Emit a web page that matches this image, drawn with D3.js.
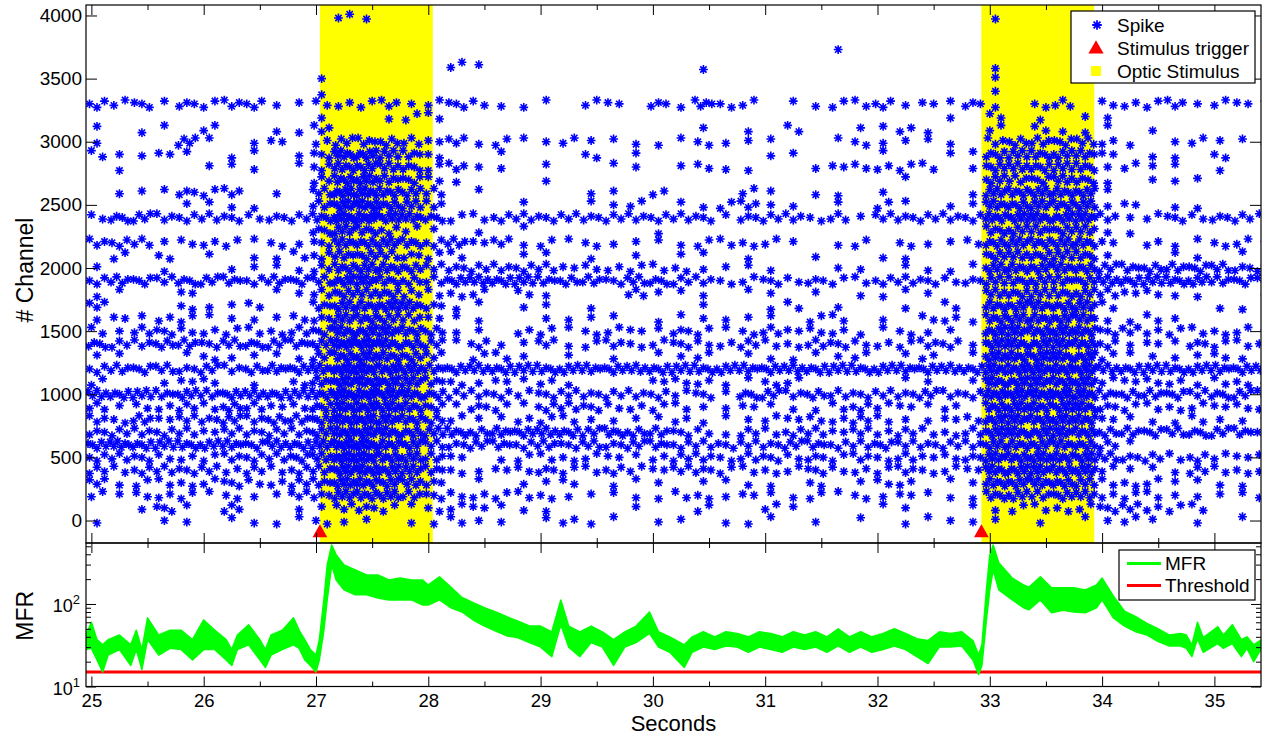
<!DOCTYPE html>
<html>
<head>
<meta charset="utf-8">
<script src="https://cdn.jsdelivr.net/npm/d3@7"></script>
<style>
  body { margin: 0; background: #fff; }
  svg text { font-family: "Liberation Sans", Arial, Helvetica, sans-serif; }
</style>
</head>
<body>
<div id="chart"></div>
<script>
// ---- data ----
const stimStart = [27.035, 32.925]
const stimEnd = [28.04, 33.93]
const triggerChannel = -90

// spike raster as counts per cell: one row per 100 channels (4000 down to 0),
// one column per 0.2 s starting at 24.95 s
const binStart = 24.95
const binWidth = 0.2
const rowChannels = [4000, 3900, 3800, 3700, 3600, 3500, 3400, 3300, 3200, 3100, 3000,
  2900, 2800, 2700, 2600, 2500, 2400, 2300, 2200, 2100, 2000,
  1900, 1800, 1700, 1600, 1500, 1400, 1300, 1200, 1100, 1000,
  900, 800, 700, 600, 500, 400, 300, 200, 100, 0]
const spikeCounts = [
  "0000000000 0210000000 0000000000 0000000000 1000000000 000",
  "0000000000 0000000000 0000000000 0000000000 0000000000 000",
  "0000000000 0000000000 0000000000 0000000000 0000000000 000",
  "0000000000 0000000000 0000000000 0001000000 0000000000 000",
  "0000000000 0000002100 0000000100 0000000000 1000000000 000",
  "0000000000 1000000000 0000000000 0000000000 1000000000 000",
  "0000000000 1000000000 0000000000 0000000000 1000000000 000",
  "3231323311 2223123211 1022031422 0112231213 1023022231 221",
  "0000000000 1001220000 0000000000 0000000010 2010110000 000",
  "1011020011 3000000000 0000000101 0200112100 2021110100 000",
  "1000410120 2444323121 1211111211 1001211110 3444421012 111",
  "2112101101 3775420010 0020100000 1100010011 5555520110 200",
  "0100011101 3665423110 1001101211 0012222201 5555512110 100",
  "0000000000 3775421000 1000000000 0000001000 5445410111 000",
  "0111323010 4886530100 0011020002 1011010001 6666610000 000",
  "0000111100 4886530001 0011201123 1101021011 6666612011 000",
  "2443333233 5997642233 3333333313 3323133333 7777731232 332",
  "0000000000 4653210101 0000010000 0000000000 5555511000 000",
  "3331222121 3666534231 2121111222 2101202112 6666620211 221",
  "0202010112 3554322001 1010101101 0010011000 5555510011 010",
  "1001001111 3666533333 3222222111 1001101111 6666644444 433",
  "3443444344 4775435555 4443443322 3232233323 5555555555 443",
  "1100200011 3555322202 1000311101 1010111100 5555532211 001",
  "3000211200 4667631101 1010000100 1201001020 6666620000 110",
  "1212211112 3665421100 1111011111 1022010221 6666611210 000",
  "2133222223 4777641102 2122213212 3222112110 7777733222 221",
  "4334434444 5997641311 3123223223 2233222331 7777731213 222",
  "1100121111 4776530221 0101011201 1111201201 7777721111 210",
  "3444343455 6998755555 5555555555 5555555555 8888855555 555",
  "2001220102 5887642121 2100022211 2200001101 7777722221 221",
  "5554545555 6998753332 3333332314 4343333433 8888844443 443",
  "3122324322 5887641321 3332222112 1112322120 7777732222 222",
  "3242334344 5887642112 2211112111 2222321122 7777721112 111",
  "3333323333 5887655455 5545443213 2332323223 7777744444 443",
  "5655555455 6997643443 4343443333 3443343333 6666631000 000",
  "3332223334 5997642012 2222123323 3232323223 7777743323 222",
  "3233332323 4887642122 3223223322 2232223222 7777721113 222",
  "3122223223 4776530101 1201110111 1020122011 6666522211 110",
  "2122212113 3666432222 2111112212 1121212111 5545522211 112",
  "0013103001 1332122211 1000100200 2100011001 1222233222 000",
  "1001101111 2110112110 1211011011 1010101111 1010112101 010"
]

// mean firing rate: band of the trace (low / high edge)
const mfrTime = [24.95, 25.0, 25.05, 25.1, 25.15, 25.25, 25.35, 25.4, 25.45, 25.5, 25.6, 25.7, 25.8, 25.9,
  26.0, 26.1, 26.2, 26.25, 26.3, 26.4, 26.5, 26.55, 26.6, 26.7, 26.8, 26.85, 26.9, 26.95, 27.0, 27.03,
  27.07, 27.1, 27.14, 27.18, 27.25, 27.35, 27.45, 27.55, 27.65, 27.75, 27.85, 27.95, 28.0, 28.1, 28.2,
  28.3, 28.4, 28.5, 28.6, 28.7, 28.8, 28.9, 29.0, 29.1, 29.18, 29.25, 29.35, 29.45, 29.55, 29.65, 29.75,
  29.85, 29.97, 30.05, 30.15, 30.28, 30.35, 30.45, 30.55, 30.65, 30.75, 30.85, 30.95, 31.05, 31.15, 31.25,
  31.35, 31.45, 31.55, 31.65, 31.75, 31.85, 31.95, 32.05, 32.15, 32.25, 32.35, 32.45, 32.55, 32.65, 32.75,
  32.85, 32.9, 32.93, 32.97, 33.0, 33.03, 33.08, 33.2, 33.3, 33.35, 33.45, 33.55, 33.65, 33.75, 33.85,
  33.95, 34.0, 34.1, 34.2, 34.3, 34.4, 34.5, 34.6, 34.7, 34.75, 34.8, 34.85, 34.9, 35.03, 35.08, 35.16,
  35.24, 35.29, 35.35, 35.42]
const mfrHigh = [42, 60, 37, 32, 37, 42, 32, 48, 28, 68, 42, 48, 48, 37,
  64, 48, 37, 28, 42, 56, 37, 28, 42, 48, 68, 48, 37, 28, 24, 37,
  112, 297, 519, 393, 297, 258, 225, 225, 195, 206, 195, 195, 170, 213, 160,
  120, 104, 90, 80, 70, 62, 54, 54, 46, 112, 54, 46, 54, 46, 37, 46,
  54, 80, 46, 40, 32, 40, 46, 40, 46, 44, 40, 46, 44, 40, 46,
  42, 46, 40, 50, 40, 46, 40, 44, 50, 44, 38, 36, 46, 44, 46,
  36, 24, 32, 148, 393, 519, 315, 206, 170, 160, 213, 157, 157, 157, 148,
  170, 206, 125, 82, 70, 58, 50, 42, 44, 42, 32, 60, 39, 53, 42, 56,
  37, 40, 32, 37]
const mfrLow = [28, 29, 21, 15, 24, 28, 18, 28, 16, 37, 24, 29, 28, 21,
  28, 28, 21, 18, 28, 32, 21, 17, 24, 28, 32, 29, 21, 18, 15, 21,
  48, 112, 297, 195, 148, 129, 129, 118, 112, 112, 112, 97, 97, 112, 90,
  80, 64, 54, 47, 41, 39, 34, 30, 23, 56, 30, 23, 34, 30, 18, 30,
  34, 44, 30, 26, 17, 26, 30, 28, 31, 30, 26, 30, 28, 26, 30,
  28, 30, 26, 31, 26, 30, 26, 28, 31, 28, 23, 19, 30, 30, 31,
  21, 14, 18, 64, 148, 258, 148, 112, 90, 85, 112, 78, 84, 80, 78,
  90, 112, 68, 54, 46, 42, 35, 31, 31, 29, 23, 38, 26, 33, 29, 33,
  23, 29, 20, 29]
const threshold = 15

const xTicks = [25, 26, 27, 28, 29, 30, 31, 32, 33, 34, 35]
const xMinorTicks = [25.5, 26.5, 27.5, 28.5, 29.5, 30.5, 31.5, 32.5, 33.5, 34.5]
const channelTicks = [0, 500, 1000, 1500, 2000, 2500, 3000, 3500, 4000]
const mfrTicks = [10, 100]
const mfrTickExp = ["1", "2"]
const mfrMinorTicks = [20, 30, 40, 50, 60, 70, 80, 90, 200, 300, 400, 500]

// ---- layout ----
const W = 1269, H = 737
const left = 86, right = 1261
const topTop = 5, topBottom = 543, botBottom = 686.5

const svg = d3.select("#chart").append("svg")
  .attr("width", W)
  .attr("height", H)

const x = d3.scaleLinear().domain([24.952, 35.415]).range([left, right])
const yTop = d3.scaleLinear().domain([-178, 4083]).range([topBottom, topTop])
const yBot = d3.scaleLog().domain([10, 548]).range([botBottom, topBottom])

const defs = svg.append("defs")
defs.append("clipPath").attr("id", "clipTop")
  .append("rect").attr("x", left).attr("y", topTop).attr("width", right - left).attr("height", topBottom - topTop)
defs.append("clipPath").attr("id", "clipBot")
  .append("rect").attr("x", left).attr("y", topBottom).attr("width", right - left).attr("height", botBottom - topBottom)

// optic stimulus
svg.append("g").attr("clip-path", "url(#clipTop)")
  .selectAll("rect").data(stimStart).join("rect")
    .attr("x", d => x(d))
    .attr("y", topTop)
    .attr("width", (d, i) => x(stimEnd[i]) - x(d))
    .attr("height", topBottom - topTop)
    .attr("fill", "#ffff00")

// spikes: n marks spread over their cell
const spread = [0, -28, 22, -12, 30, -20, 10]
const spikes = []
spikeCounts.forEach((row, i) => {
  const cells = row.replace(/ /g, "")
  for (let k = 0; k < cells.length; k++) {
    const n = +cells[k]
    for (let j = 0; j < n; j++) {
      spikes.push({
        t: binStart + binWidth * k + binWidth * (j + 0.5) / n,
        ch: rowChannels[i] + spread[(j + 3 * k + i) % 7]
      })
    }
  }
})

const star = s => {
  const d = s * 0.72
  return `M${-s},0H${s}M0,${-s}V${s}M${-d},${-d}L${d},${d}M${-d},${d}L${d},${-d}`
}

svg.append("g").attr("clip-path", "url(#clipTop)")
  .selectAll("path").data(spikes).join("path")
    .attr("d", star(4.4))
    .attr("transform", d => "translate(" + x(d.t) + "," + yTop(d.ch) + ")")
    .attr("fill", "none")
    .attr("stroke", "#0000ff")
    .attr("stroke-width", 1.6)

// stimulus triggers
svg.append("g")
  .selectAll("path").data(stimStart).join("path")
    .attr("d", d3.symbol(d3.symbolTriangle).size(95))
    .attr("transform", d => "translate(" + x(d) + "," + (yTop(triggerChannel) + 1) + ")")
    .attr("fill", "#ff0000")

// MFR band and threshold
const mfr = mfrTime.map((t, i) => ({t: t, lo: mfrLow[i], hi: mfrHigh[i]}))
const area = d3.area()
  .x(d => x(d.t))
  .y0(d => yBot(d.lo))
  .y1(d => yBot(d.hi))

const gBot = svg.append("g").attr("clip-path", "url(#clipBot)")
gBot.append("line")
  .attr("x1", left).attr("x2", right)
  .attr("y1", yBot(threshold)).attr("y2", yBot(threshold))
  .attr("stroke", "#ff0000")
  .attr("stroke-width", 3)
gBot.append("path")
  .datum(mfr)
  .attr("d", area)
  .attr("fill", "#00ff00")
  .attr("stroke", "#00ff00")
  .attr("stroke-width", 1.5)
  .attr("stroke-linejoin", "round")

// ---- axes ----
function tidy(g, size) {
  g.attr("font-family", "'Liberation Sans', Arial, sans-serif").attr("font-size", size)
  g.select(".domain").remove()
  g.selectAll(".tick line").attr("stroke", "#000")
  g.selectAll(".tick text").attr("fill", "#000")
}

function xTickSet(y, axisFn, labels) {
  const major = axisFn(x).tickValues(xTicks).tickSize(-10).tickPadding(7)
    .tickFormat(labels ? d3.format("d") : "")
  svg.append("g").attr("transform", "translate(0," + y + ")").call(major).call(g => tidy(g, 18.5))
  const minor = axisFn(x).tickValues(xMinorTicks).tickSize(-5).tickFormat("")
  svg.append("g").attr("transform", "translate(0," + y + ")").call(minor).call(g => tidy(g, 18.5))
}

xTickSet(topTop, d3.axisTop, false)
xTickSet(topBottom, d3.axisBottom, false)
xTickSet(topBottom, d3.axisTop, false)
xTickSet(botBottom, d3.axisBottom, true)

svg.append("g").attr("transform", "translate(" + left + ",0)")
  .call(d3.axisLeft(yTop).tickValues(channelTicks).tickSize(-11).tickPadding(4).tickFormat(d3.format("d")))
  .call(g => tidy(g, 19))
svg.append("g").attr("transform", "translate(" + right + ",0)")
  .call(d3.axisRight(yTop).tickValues(channelTicks).tickSize(-11).tickFormat(""))
  .call(g => tidy(g, 19))

svg.append("g").attr("transform", "translate(" + left + ",0)")
  .call(d3.axisLeft(yBot).tickValues(mfrTicks).tickSize(-10).tickFormat(""))
  .call(g => tidy(g, 19))
svg.append("g").attr("transform", "translate(" + left + ",0)")
  .call(d3.axisLeft(yBot).tickValues(mfrMinorTicks).tickSize(-5).tickFormat(""))
  .call(g => tidy(g, 19))
svg.append("g").attr("transform", "translate(" + right + ",0)")
  .call(d3.axisRight(yBot).tickValues(mfrTicks).tickSize(-10).tickFormat(""))
  .call(g => tidy(g, 19))
svg.append("g").attr("transform", "translate(" + right + ",0)")
  .call(d3.axisRight(yBot).tickValues(mfrMinorTicks).tickSize(-5).tickFormat(""))
  .call(g => tidy(g, 19))

// log tick labels with exponents
const logLabels = svg.append("g")
  .selectAll("text").data(mfrTicks).join("text")
    .attr("x", left - 6)
    .attr("y", d => yBot(d) + 8.5)
    .attr("text-anchor", "end")
    .attr("font-size", 18)
    .attr("fill", "#000")
logLabels.append("tspan").text("10")
logLabels.append("tspan")
  .attr("dy", -8)
  .attr("font-size", 13)
  .text((d, i) => mfrTickExp[i])

// frames
svg.append("rect")
  .attr("x", left).attr("y", topTop)
  .attr("width", right - left).attr("height", topBottom - topTop)
  .attr("fill", "none").attr("stroke", "#000").attr("stroke-width", 1.2)
svg.append("rect")
  .attr("x", left).attr("y", topBottom)
  .attr("width", right - left).attr("height", botBottom - topBottom)
  .attr("fill", "none").attr("stroke", "#000").attr("stroke-width", 1.2)

// axis titles
svg.append("text")
  .attr("transform", "translate(33," + ((topTop + topBottom) / 2 - 4) + ") rotate(-90)")
  .attr("text-anchor", "middle")
  .attr("font-size", 23)
  .text("# Channel")
svg.append("text")
  .attr("transform", "translate(33," + ((topBottom + botBottom) / 2 + 1) + ") rotate(-90)")
  .attr("text-anchor", "middle")
  .attr("font-size", 23)
  .text("MFR")
svg.append("text")
  .attr("x", (left + right) / 2)
  .attr("y", 731)
  .attr("text-anchor", "middle")
  .attr("font-size", 22)
  .text("Seconds")

// ---- legends ----
const lg1 = svg.append("g")
lg1.append("rect")
  .attr("x", 1071).attr("y", 11).attr("width", 184).attr("height", 72)
  .attr("fill", "#fff").attr("stroke", "#000").attr("stroke-width", 1.2)
const legendTop = ["Spike", "Stimulus trigger", "Optic Stimulus"]
const legendTopY = [25, 48, 71]
lg1.selectAll("text").data(legendTop).join("text")
  .attr("x", 1117)
  .attr("y", (d, i) => legendTopY[i])
  .attr("dy", "0.35em")
  .attr("font-size", 19)
  .text(d => d)
lg1.append("path")
  .attr("d", star(4.8))
  .attr("transform", "translate(1097," + legendTopY[0] + ")")
  .attr("fill", "none").attr("stroke", "#0000ff").attr("stroke-width", 1.8)
lg1.append("path")
  .attr("d", d3.symbol(d3.symbolTriangle).size(100))
  .attr("transform", "translate(1096," + (legendTopY[1] + 1) + ")")
  .attr("fill", "#ff0000")
lg1.append("rect")
  .attr("x", 1091).attr("y", legendTopY[2] - 5).attr("width", 10).attr("height", 10)
  .attr("fill", "#ffff00")

const lg2 = svg.append("g")
lg2.append("rect")
  .attr("x", 1119).attr("y", 550).attr("width", 136).attr("height", 50)
  .attr("fill", "#fff").attr("stroke", "#000").attr("stroke-width", 1.2)
const legendBot = ["MFR", "Threshold"]
const legendBotColor = ["#00ff00", "#ff0000"]
const legendBotY = [563.5, 585.5]
lg2.selectAll("line").data(legendBot).join("line")
  .attr("x1", 1127).attr("x2", 1161)
  .attr("y1", (d, i) => legendBotY[i]).attr("y2", (d, i) => legendBotY[i])
  .attr("stroke", (d, i) => legendBotColor[i])
  .attr("stroke-width", 3)
lg2.selectAll("text").data(legendBot).join("text")
  .attr("x", 1165)
  .attr("y", (d, i) => legendBotY[i])
  .attr("dy", "0.35em")
  .attr("font-size", 19)
  .text(d => d)
</script>
</body>
</html>
